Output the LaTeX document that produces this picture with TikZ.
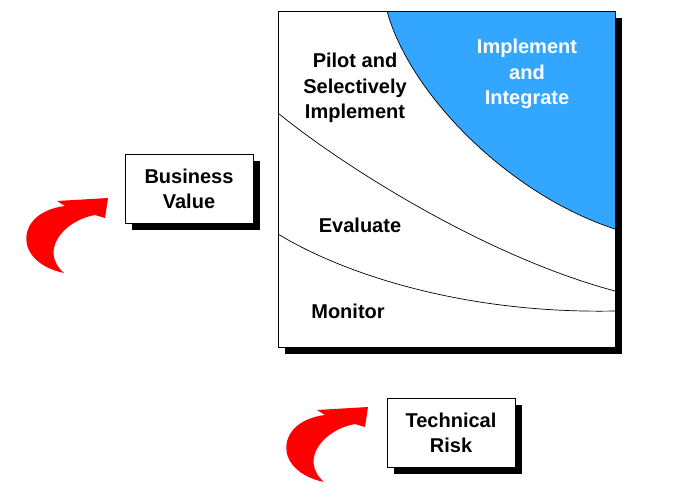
\documentclass[tikz,border=0pt]{standalone}
\usepackage{fontspec}
\setmainfont{Liberation Sans}
\definecolor{skyblue}{RGB}{51,166,255}
\definecolor{arrowred}{RGB}{255,0,0}
\tikzset{
  lbl/.style={font=\fontsize{20}{25.5}\selectfont\bfseries, align=center, inner sep=0pt},
  shadowbox/.style={fill=black, draw=none},
  whitebox/.style={fill=white, draw=black, line width=0.8pt},
  curve/.style={draw=black, line width=0.7pt},
  redarrow/.style={fill=arrowred, draw=none}
}
\begin{document}
\begin{tikzpicture}[x=1pt,y=-1pt]
\useasboundingbox (0,0) rectangle (675,496);
% main box
\fill[black] (285,18) rectangle (622,354);
\draw[whitebox] (278,11) rectangle (615,347);
\fill[skyblue] (387,11) .. controls (410,95) and (510,195) .. (615,229) -- (615,11) -- cycle;
\draw[curve] (387,11) .. controls (410,95) and (510,195) .. (615,229);
\draw[curve] (278,113) .. controls (335,160) and (480,255) .. (615,291);
\draw[curve] (278,234) .. controls (340,272) and (460,314) .. (615,311);
\draw[black, line width=0.8pt] (278,11) rectangle (615,347);
\node[lbl] (pilot) at (355,88) {Pilot and\\Selectively\\Implement};
\node[lbl, text=white] (impl) at (527,74) {Implement\\and\\Integrate};
\node[lbl] (eval) at (360,225) {Evaluate};
\node[lbl] (mon) at (348,311) {Monitor};
% business value box
\fill[black] (132,161) rectangle (260,230);
\draw[whitebox] (125,154) rectangle (253,223);
\node[lbl] (bv) at (189,189) {Business\\Value};
% technical risk box
\fill[black] (394,405) rectangle (522,474);
\draw[whitebox] (387,398) rectangle (515,467);
\node[lbl] (tr) at (451,433) {Technical\\Risk};
% red arrows
\foreach \dx/\dy in {0/0, 260/209}{
\begin{scope}[shift={(\dx,\dy)}]
\fill[redarrow] (108,198) -- (105,218) -- (95,215)
  .. controls (65,220) and (38,250) .. (64,273)
  .. controls (12,262) and (15,212) .. (65,206)
  -- (57,201) -- cycle;
\end{scope}}
\end{tikzpicture}
\end{document}
